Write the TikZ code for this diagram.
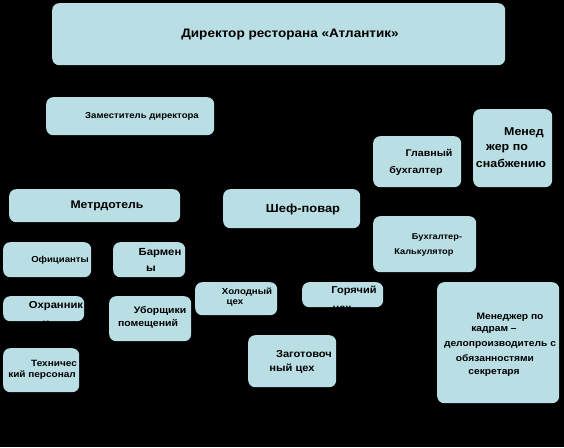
\documentclass[tikz,border=0pt]{standalone}
\usepackage{fontspec}
\setmainfont{Liberation Sans}
\newfontfamily\widefont[FakeStretch=1.1]{Liberation Sans}
\definecolor{boxfill}{RGB}{185,222,227}
\tikzset{
  box/.style={fill=boxfill, draw=none, rounded corners=7pt, anchor=north west, inner sep=0pt},
  lbl/.style={inner sep=0pt, text=black, font=\widefont\bfseries\fontsize{#1}{#1}\selectfont},
}
\newcommand{\bx}[5]{\node[box, minimum width=#4pt-#2pt, minimum height=#5pt-#3pt] (#1) at (#2,#3) {};}
\begin{document}
\begin{tikzpicture}[x=1pt,y=-1pt]
\fill[black] (0,0) rectangle (564,447);
\useasboundingbox (0,0) rectangle (564,447);
% boxes
\bx{dir}{52}{3}{505}{65}
\bx{zam}{46}{97}{214}{135}
\bx{metr}{9}{189}{180}{222}
\bx{chef}{223}{189}{360}{228}
\bx{ofic}{3}{242}{91}{277}
\bx{barm}{113}{242}{185}{277}
\bx{ohr}{3}{296}{84}{321}
\bx{ubor}{109}{296}{191}{341}
\bx{tech}{3}{348}{79}{392}
\bx{hol}{195}{282}{277}{315}
\bx{gor}{302}{282}{383}{307}
\bx{zag}{248}{335}{336}{387}
\bx{glav}{373}{136}{461}{187}
\bx{snab}{473}{109}{552}{187}
\bx{buhk}{373}{216}{476}{272}
\bx{kadr}{437}{282}{559}{403}
% labels
\node[lbl=12.3] (tdir) at (290,35) {Директор ресторана «Атлантик»};
\node[lbl=8.7] (tzam) at (142,116) {Заместитель директора};
\node[lbl=11.1] (tmetr) at (107,206) {Метрдотель};
\node[lbl=11.7] (tchef) at (303,209) {Шеф-повар};
\node[lbl=8.7] (tofic) at (60,260) {Официанты};
\node[lbl=10.3] (tbarm1) at (160,253) {Бармен};
\node[lbl=10.3] (tbarm2) at (151,269) {ы};
\node[lbl=10.2] (tohr1) at (56,306) {Охранник};
\node[lbl=10.2] (tohr2) at (46,324) {и};
\node[lbl=9.5] (tubor1) at (160,311) {Уборщики};
\node[lbl=9.5] (tubor2) at (148,324) {помещений};
\node[lbl=9.1] (ttech1) at (54,363) {Техничес};
\node[lbl=9.1] (ttech2) at (42,375) {кий персонал};
\node[lbl=8.8] (thol1) at (247,292) {Холодный};
\node[lbl=8.8] (thol2) at (235,303) {цех};
\node[lbl=10] (tgor1) at (354,291) {Горячий};
\node[lbl=10] (tgor2) at (342,310) {цех};
\node[lbl=10.1] (tzag1) at (304,354) {Заготовоч};
\node[lbl=10.1] (tzag2) at (292,369) {ный цех};
\node[lbl=9.7] (tglav1) at (429,153) {Главный};
\node[lbl=9.7] (tglav2) at (416,171) {бухгалтер};
\node[lbl=11.3] (tsnab1) at (524,133) {Менед};
\node[lbl=11.3] (tsnab2) at (507,149) {жер по};
\node[lbl=11.3] (tsnab3) at (511,163) {снабжению};
\node[lbl=8.4] (tbuhk1) at (437,237) {Бухгалтер-};
\node[lbl=8.4] (tbuhk2) at (424,252) {Калькулятор};
\node[lbl=9.3] (tkadr1) at (510,317) {Менеджер по};
\node[lbl=9.3] (tkadr2) at (494,330) {кадрам –};
\node[lbl=9.3] (tkadr3) at (500,345) {делопроизводитель с};
\node[lbl=9.3] (tkadr4) at (495,358) {обязанностями};
\node[lbl=9.3] (tkadr5) at (494,373) {секретаря};
\end{tikzpicture}
\end{document}
